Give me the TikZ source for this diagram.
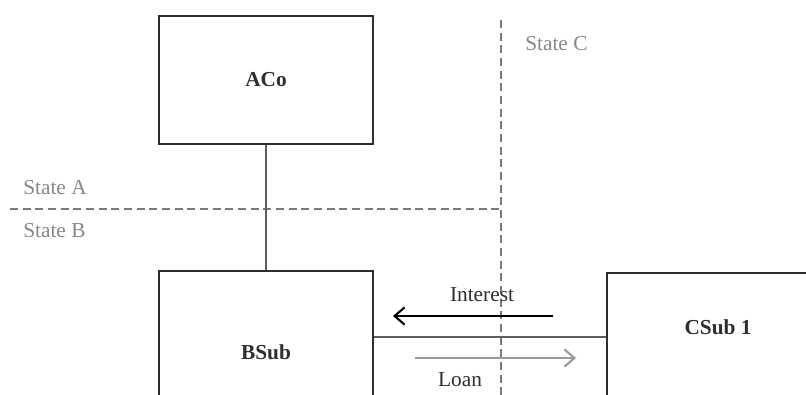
\documentclass[tikz,border=0pt]{standalone}
\usepackage{fontspec}
\setmainfont{Liberation Serif}
\usetikzlibrary{arrows.meta}
\definecolor{boxline}{HTML}{2E2E2E}
\definecolor{linkline}{HTML}{5E5E5E}
\definecolor{border}{HTML}{7A7A7A}
\definecolor{statetext}{HTML}{888888}
\definecolor{loangray}{HTML}{9A9A9A}
\tikzset{
  entity/.style={draw=boxline, line width=1.1pt, rectangle, inner sep=0pt,
    font=\fontsize{16}{19}\selectfont\bfseries, text=boxline},
  entitytitle/.style={font=\fontsize{16}{19}\selectfont\bfseries, text=boxline, inner sep=0pt},
  statelabel/.style={font=\fontsize{16}{19}\selectfont, text=statetext, inner sep=0pt},
  flowlabel/.style={font=\fontsize{16}{19}\selectfont, text=boxline, inner sep=0pt},
  border/.style={draw=border, line width=1pt, dash pattern=on 6pt off 3.5pt},
  link/.style={draw=linkline, line width=1pt},
  flowarrow/.style={line width=1.5pt, -{Straight Barb[length=7.5pt,width=13pt,line width=1.6pt]}}
}
\begin{document}
\begin{tikzpicture}[x=0.75pt, y=-0.75pt]
  \useasboundingbox (0,0) rectangle (806,394);
  \clip (0,0) rectangle (806,394);

  % state borders
  \coordinate (hleft) at (10,209);
  \coordinate (hright) at (501,209);
  \coordinate (vtop) at (501,20);
  \coordinate (vbot) at (501,400);
  \draw[border] (hleft) -- (hright);
  \draw[border] (vtop) -- (vbot);

  \node[statelabel, anchor=west] (sa) at (23,188) {State A};
  \node[statelabel, anchor=west] (sb) at (23,231) {State B};
  \node[statelabel, anchor=west] (sc) at (525,44) {State C};

  % entities
  \node[entity, minimum width=160.5pt, minimum height=96pt] (aco) at (266,80) {ACo};
  \node[entity, minimum width=160.5pt, minimum height=121.5pt] (bsub) at (266,352) {BSub};
  \node[entity, minimum width=167pt, minimum height=132.75pt] (csub) at (718.5,361.5) {};
  \node[entitytitle] (csubtitle) at (718,327) {CSub 1};

  % ownership links
  \draw[link] (aco.south) -- (bsub.north);
  \coordinate (linky) at (0,337);
  \draw[link] (bsub.east |- linky) -- (csub.west |- linky);

  % flows
  \coordinate (intstart) at (553,316);
  \coordinate (intend) at (393,316);
  \draw[flowarrow, draw=black] (intstart) -- (intend);
  \node[flowlabel] (interest) at (482,295) {Interest};

  \coordinate (loanstart) at (415,358);
  \coordinate (loanend) at (576,358);
  \draw[flowarrow, draw=loangray] (loanstart) -- (loanend);
  \node[flowlabel] (loan) at (460,380) {Loan};
\end{tikzpicture}
\end{document}
